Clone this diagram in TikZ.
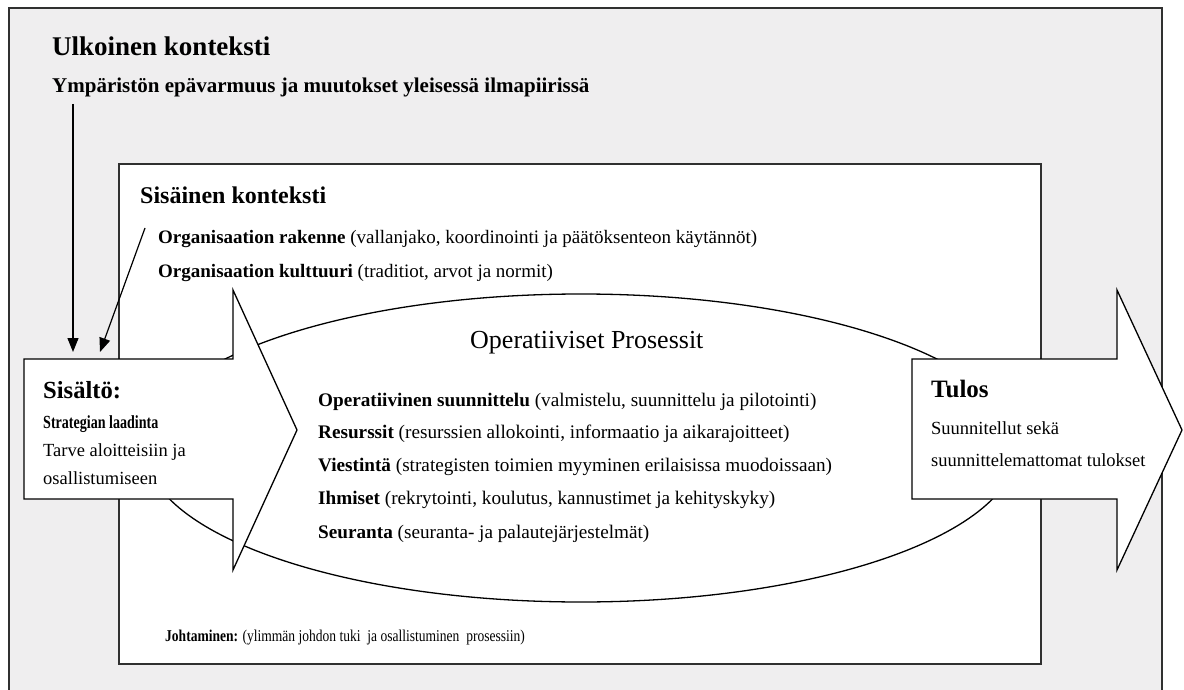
\documentclass[tikz,border=0pt]{standalone}
\usepackage{fontspec}
\setmainfont{Liberation Serif}
\usetikzlibrary{arrows.meta}
\definecolor{bggray}{HTML}{EFEEEF}
\definecolor{linegray}{HTML}{303030}
\tikzset{
  frameline/.style={draw=linegray, line width=1.5pt},
  shapeline/.style={draw=black, line width=1.3pt, line join=miter},
  conn/.style={draw=black, line width=1.2pt, -{Triangle[length=14pt,width=11pt]}},
  txt/.style={anchor=base west, inner sep=0pt, text=black},
  listtxt/.style={txt, font=\fontsize{19.2}{22}\selectfont},
}
\begin{document}
\begin{tikzpicture}[x=1pt,y=-1pt]
\useasboundingbox (0,0) rectangle (1184,690);
\fill[white] (0,0) rectangle (1184,690);
% outer frame
\fill[bggray] (9,8) rectangle (1162,690);
\draw[frameline] (9,692) -- (9,8) -- (1162,8) -- (1162,692);
% inner box
\draw[frameline, fill=white] (119,164) rectangle (1041,664);
% ellipse
\draw[shapeline, fill=white] (581,448) ellipse [x radius=436, y radius=154];
% Sisalto arrow
\draw[shapeline, fill=white] (24,359) -- (233,359) -- (233,290) -- (297,430) -- (233,570) -- (233,499) -- (24,499) -- cycle;
% Tulos arrow
\draw[shapeline, fill=white] (912,359) -- (1117,359) -- (1117,290) -- (1182,430) -- (1117,570) -- (1117,499) -- (912,499) -- cycle;

% texts
\node[txt, font=\bfseries\fontsize{27}{30}\selectfont] (ulk) at (52,56) {Ulkoinen konteksti};
\node[txt, font=\bfseries\fontsize{21}{24}\selectfont] (ymp) at (52,93) {Ympäristön epävarmuus ja muutokset yleisessä ilmapiirissä};
\node[txt, font=\bfseries\fontsize{24}{27}\selectfont] (sis) at (140,204) {Sisäinen konteksti};
\node[txt, font=\fontsize{19}{22}\selectfont] (org1) at (158,243) {\textbf{Organisaation rakenne} (vallanjako, koordinointi ja päätöksenteon käytännöt)};
\node[txt, font=\fontsize{19}{22}\selectfont] (org2) at (158,277) {\textbf{Organisaation kulttuuri} (traditiot, arvot ja normit)};
\node[txt, font=\fontsize{26}{30}\selectfont] (op) at (470,348) {Operatiiviset Prosessit};
\node[listtxt] (l1) at (318,406) {\textbf{Operatiivinen suunnittelu} (valmistelu, suunnittelu ja pilotointi)};
\node[listtxt] (l2) at (318,438) {\textbf{Resurssit} (resurssien allokointi, informaatio ja aikarajoitteet)};
\node[listtxt] (l3) at (318,471) {\textbf{Viestintä} (strategisten toimien myyminen erilaisissa muodoissaan)};
\node[listtxt] (l4) at (318,504) {\textbf{Ihmiset} (rekrytointi, koulutus, kannustimet ja kehityskyky)};
\node[listtxt] (l5) at (318,538) {\textbf{Seuranta} (seuranta- ja palautejärjestelmät)};
\node[txt, font=\bfseries\fontsize{24.6}{28}\selectfont] (sisl) at (43,398) {Sisältö:};
\node[txt, font=\bfseries\fontsize{18.5}{22}\selectfont] (str) at (43,428) {\scalebox{0.76}[1]{Strategian laadinta}};
\node[txt, font=\fontsize{18.5}{22}\selectfont] (tar1) at (43,456) {Tarve aloitteisiin ja};
\node[txt, font=\fontsize{18.5}{22}\selectfont] (tar2) at (43,484) {osallistumiseen};
\node[txt, font=\bfseries\fontsize{25}{28}\selectfont] (tul) at (931,397) {Tulos};
\node[txt, font=\fontsize{18.5}{22}\selectfont] (tul1) at (931,434) {Suunnitellut sekä};
\node[txt, font=\fontsize{18.5}{22}\selectfont] (tul2) at (931,466) {suunnittelemattomat tulokset};
\node[txt, font=\fontsize{16.5}{19}\selectfont] (joh) at (165,641) {\scalebox{0.82}[1]{\textbf{Johtaminen:} (ylimmän johdon tuki \ ja osallistuminen \ prosessiin)}};

% connectors
\coordinate (a1s) at (73,104);
\coordinate (a1e) at (73,352);
\coordinate (a2s) at (145,228);
\coordinate (a2e) at (100,352);
\draw[conn] (a1s) -- (a1e);
\draw[conn] (a2s) -- (a2e);
\end{tikzpicture}
\end{document}
